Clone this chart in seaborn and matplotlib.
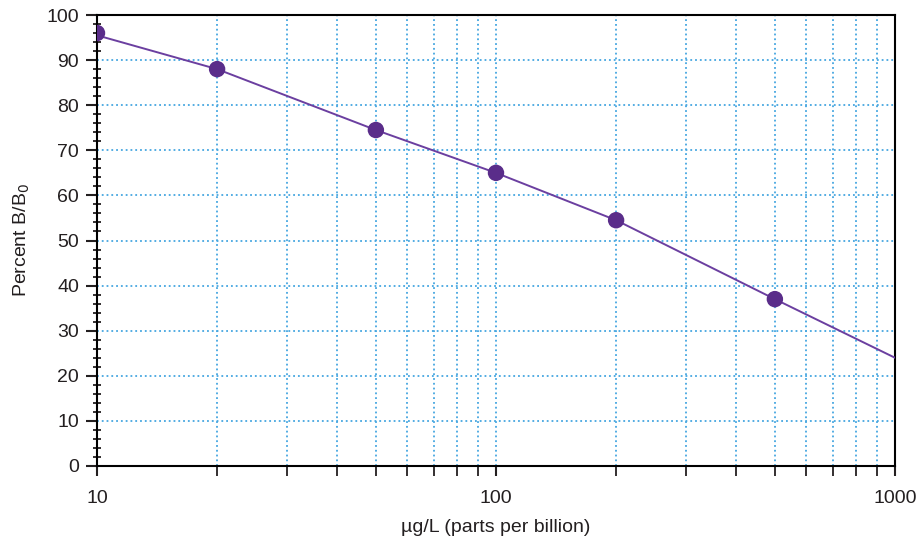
import matplotlib
matplotlib.use("Agg")
import matplotlib.pyplot as plt
import matplotlib.ticker as mticker
import seaborn as sns
import pandas as pd

sns.set_style("white")
plt.rcParams["font.family"] = ["Liberation Sans", "DejaVu Sans"]

# -------------------------------
# DATA
# -------------------------------
conc_points = [10, 20, 50, 100, 200, 500]
pct_points = [96, 88, 74.5, 65, 54.5, 37]

conc_curve = [10, 20, 50, 100, 200, 500, 1000]
pct_curve = [95.5, 88, 74.5, 65, 54.5, 37, 24]

y_ticks = [0, 10, 20, 30, 40, 50, 60, 70, 80, 90, 100]
x_ticks = [10, 100, 1000]

points = pd.DataFrame({"conc": conc_points, "pct": pct_points})
curve = pd.DataFrame({"conc": conc_curve, "pct": pct_curve})

text_col = "#231f20"
grid_col = "#45a6e0"

# -------------------------------
# PLOT
# -------------------------------
fig = plt.figure(figsize=(9.22, 5.36), dpi=100)
ax = fig.add_axes([0.1052, 0.1306, 0.8655, 0.8414])

ax.set_xscale("log")
ax.set_xlim(10, 1000)
ax.set_ylim(0, 100)

sns.lineplot(data=curve, x="conc", y="pct", ax=ax, color="#6b3fa0", lw=1.4, zorder=3)
sns.scatterplot(data=points, x="conc", y="pct", ax=ax, color="#5a2d8a", s=140,
                edgecolor="none", zorder=4)

ax.set_yticks(y_ticks)
ax.yaxis.set_minor_locator(mticker.MultipleLocator(2))
ax.xaxis.set_major_locator(mticker.FixedLocator(x_ticks))
ax.xaxis.set_major_formatter(mticker.FixedFormatter([str(v) for v in x_ticks]))
ax.xaxis.set_minor_locator(mticker.LogLocator(base=10, subs=range(2, 10)))
ax.xaxis.set_minor_formatter(mticker.NullFormatter())

ax.grid(True, which="major", axis="y", ls=":", lw=1.3, color=grid_col)
ax.grid(True, which="both", axis="x", ls=":", lw=1.3, color=grid_col)
ax.set_axisbelow(True)

ax.tick_params(axis="y", which="major", direction="out", length=8, width=1.5,
               labelsize=14, pad=5, colors=text_col, left=True)
ax.tick_params(axis="y", which="minor", direction="inout", length=6, width=1.3,
               left=True, colors=text_col)
ax.tick_params(axis="x", which="major", direction="out", length=7, width=1.5,
               labelsize=14, pad=10, colors=text_col, bottom=True)
ax.tick_params(axis="x", which="minor", direction="out", length=7, width=1.3,
               bottom=True, colors=text_col)

for side in ["left", "bottom", "top", "right"]:
    ax.spines[side].set_visible(True)
    ax.spines[side].set_color("black")
    ax.spines[side].set_linewidth(1.5)

ax.set_xlabel("µg/L (parts per billion)", fontsize=14, color=text_col, labelpad=9)
ax.set_ylabel("Percent B/B$_0$", fontsize=14, color=text_col, labelpad=10)

fig.savefig("out.png", dpi=100)
